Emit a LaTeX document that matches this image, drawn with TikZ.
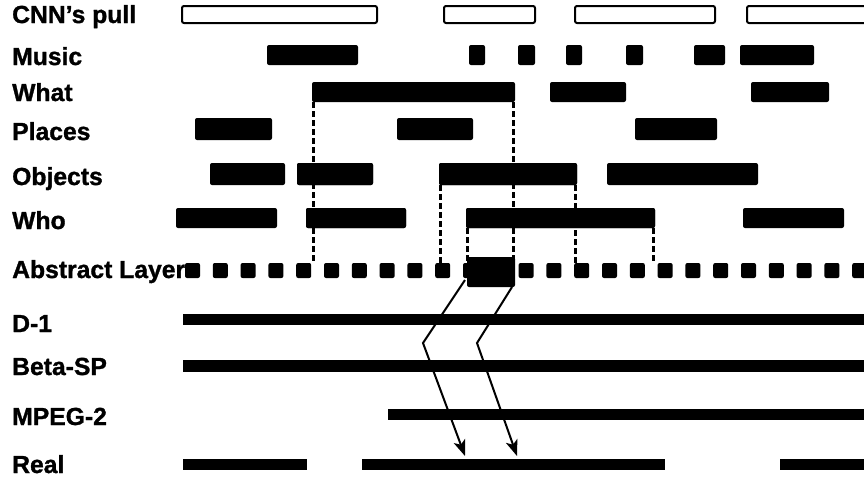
\documentclass[tikz,border=0pt]{standalone}
\usepackage{fontspec}
\setmainfont{Liberation Sans}[BoldFeatures={FakeBold=1.2}]
\usetikzlibrary{arrows.meta}
\newcommand{\mybar}[6][bar]{\node[#1, minimum width={(#5-#3)*1pt}, minimum height={(#6-#4)*1pt}] (#2) at (#3,#4) {};}
\begin{document}
\begin{tikzpicture}[x=1pt,y=-1pt,
  bar/.style={fill=black, rounded corners=2pt, inner sep=0pt, outer sep=0pt, anchor=north west},
  obox/.style={draw=black, fill=white, line width=2pt, rounded corners=2pt, inner sep=0pt, outer sep=0pt, anchor=north west},
  lbl/.style={anchor=base west, inner sep=0pt, font=\bfseries\fontsize{24.7}{28}\selectfont},
  vdash/.style={line width=3.5pt, dash pattern=on 6pt off 3pt},
  link/.style={line width=2pt, -{Stealth[length=16pt,width=12pt,inset=4pt]}}]
\useasboundingbox (0,0) rectangle (864,477);
\fill[white] (0,0) rectangle (864,477);
% labels
\node[lbl] (l1) at (12,23) {CNN’s pull};
\node[lbl] (l2) at (12,65) {Music};
\node[lbl] (l3) at (12,101) {What};
\node[lbl] (l4) at (12,140) {Places};
\node[lbl] (l5) at (12,185) {Objects};
\node[lbl] (l6) at (12,229) {Who};
\node[lbl] (l7) at (12,278) {Abstract Layer};
\node[lbl] (l8) at (12,332) {D-1};
\node[lbl] (l9) at (12,375) {Beta-SP};
\node[lbl] (l10) at (12,425) {MPEG-2};
\node[lbl] (l11) at (12,473) {Real};
% CNN's pull
\mybar[obox]{c1}{182}{6}{377}{23}
\mybar[obox]{c2}{444}{6}{535}{23}
\mybar[obox]{c3}{575}{6}{715}{23}
\mybar[obox]{c4}{747}{6}{870}{23}
% coordinate of abstract layer top
\coordinate (abs) at (0,263);
% What bars
\mybar{w1}{312}{82}{515}{102}
\mybar{w2}{550}{82}{626}{102}
\mybar{w3}{751}{82}{829}{102}
% Objects
\mybar{o1}{210}{163}{285}{185}
\mybar{o2}{297}{163}{373}{185}
\mybar{o3}{439}{163}{577}{185}
\mybar{o4}{607}{163}{758}{185}
% Who
\mybar{h1}{176}{208}{277}{228}
\mybar{h2}{306}{208}{406}{228}
\mybar{h3}{466}{208}{655}{228}
\mybar{h4}{743}{208}{844}{228}
% dashed links to abstract layer
\draw[vdash] ([xshift=1.7pt]w1.south west) -- ([xshift=1.7pt]w1.south west |- abs);
\draw[vdash] ([xshift=-1.7pt]w1.south east) -- ([xshift=-1.7pt]w1.south east |- abs);
\draw[vdash] ([xshift=1.7pt]o3.south west) -- ([xshift=1.7pt]o3.south west |- abs);
\draw[vdash] ([xshift=-1.7pt]o3.south east) -- ([xshift=-1.7pt]o3.south east |- abs);
\draw[vdash] ([xshift=1.7pt]h3.south west) -- ([xshift=1.7pt]h3.south west |- abs);
\draw[vdash] ([xshift=-1.7pt]h3.south east) -- ([xshift=-1.7pt]h3.south east |- abs);
% redraw bars over the dashed lines
\mybar{o2b}{297}{163}{373}{185}
\mybar{o3b}{439}{163}{577}{185}
\mybar{h2b}{306}{208}{406}{228}
\mybar{h3b}{466}{208}{655}{228}
% Music
\mybar{m1}{267}{45}{358}{65}
\mybar{m2}{469}{45}{485}{65}
\mybar{m3}{518}{45}{535}{65}
\mybar{m4}{566}{45}{582}{65}
\mybar{m5}{626}{45}{643}{65}
\mybar{m6}{694}{45}{725}{65}
\mybar{m7}{740}{45}{814}{65}
% Places
\mybar{p1}{195}{118}{272}{140}
\mybar{p2}{397}{118}{473}{140}
\mybar{p3}{635}{118}{717}{140}
% Abstract layer squares
\foreach \k in {0,...,24}{
  \pgfmathsetmacro{\xa}{185+27.8*\k}
  \pgfmathsetmacro{\xb}{\xa+15}
  \mybar{sq\k}{\xa}{263}{\xb}{278}
}
\mybar{blk}{467}{257}{515}{287}
% media rows
\mybar[bar,rounded corners=0pt]{d1}{183}{314}{870}{325}
\mybar[bar,rounded corners=0pt]{bsp}{183}{360}{870}{372}
\mybar[bar,rounded corners=0pt]{mpg}{388}{409}{870}{420}
\mybar[bar,rounded corners=0pt]{r1}{183}{459}{307}{470}
\mybar[bar,rounded corners=0pt]{r2}{362}{459}{665}{470}
\mybar[bar,rounded corners=0pt]{r3}{780}{459}{870}{470}
% arrows
\coordinate (k1) at (423,343);
\coordinate (k2) at (477,343);
\coordinate (t1) at (465,456);
\coordinate (t2) at (517,456);
\draw[link] ([xshift=-2pt,yshift=7pt]blk.south west) -- (k1) -- (t1);
\draw[link] ([xshift=-3pt]blk.south east) -- (k2) -- (t2);
\end{tikzpicture}
\end{document}
